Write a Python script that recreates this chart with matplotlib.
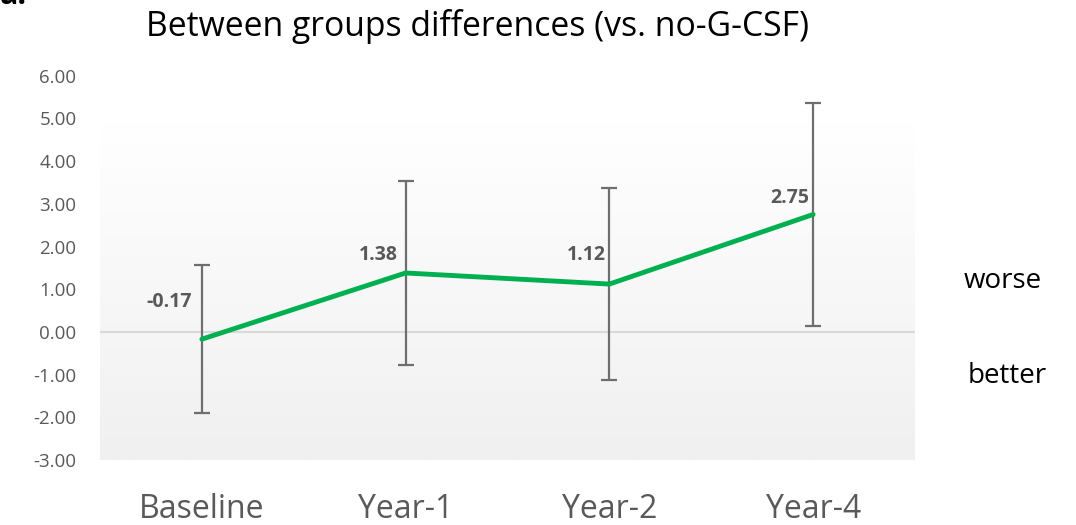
import matplotlib
matplotlib.use("Agg")
import matplotlib.pyplot as plt
import numpy as np

# data
categories = ["Baseline", "Year-1", "Year-2", "Year-4"]
diff = [-0.17, 1.38, 1.12, 2.75]
ci_upper = [1.57, 3.54, 3.37, 5.36]
ci_lower = [-1.90, -0.77, -1.12, 0.14]
yticks = [-3, -2, -1, 0, 1, 2, 3, 4, 5, 6]

# where each value label sits relative to its point (pixels: right edge dx, centre dy)
label_offsets = [(-10, 37), (-8, 18), (-4, 29), (-4, 16)]

GREY = "#595959"
GREEN = "#00b050"

plt.rcParams["font.family"] = ["Open Sans", "DejaVu Sans"]

fig = plt.figure(figsize=(10.76, 5.25), dpi=100)
# axes box in pixels: x 100..915, y 75.7..460
W, H = 1076, 525
ax = fig.add_axes([100 / W, 1 - 460 / H, 815 / W, (460 - 75.7) / H])

x = np.arange(len(categories))
ax.set_xlim(-0.5, len(categories) - 0.5)
ax.set_ylim(-3, 6)

# gradient plot-area background (white top -> light grey bottom)
grad = np.linspace(1.0, 0.0, 256).reshape(-1, 1)
ax.imshow(grad, extent=(-0.5, len(categories) - 0.5, -3, 4.9), aspect="auto",
          cmap=matplotlib.colors.LinearSegmentedColormap.from_list("bg", ["#f0f0f0", "#ffffff"]),
          zorder=0, interpolation="bilinear")

ax.axhline(0, color="#d9d9d9", lw=1.5, zorder=1)

diff_a = np.array(diff)
yerr = [diff_a - np.array(ci_lower), np.array(ci_upper) - diff_a]
ax.errorbar(x, diff, yerr=yerr, fmt="none", ecolor="#6e6e6e", elinewidth=1.6,
            capsize=6, capthick=1.6, zorder=2)
ax.plot(x, diff, color=GREEN, lw=3.5, solid_capstyle="round", zorder=3)

for xi, v, (dx, dy) in zip(x, diff, label_offsets):
    ax.annotate(f"{v:.2f}", (xi, v), xytext=(dx * 0.72, dy * 0.72), textcoords="offset points",
                ha="right", va="center", fontsize=14, fontweight="bold", color=GREY)

ax.set_xticks(x)
ax.set_xticklabels(categories, fontsize=23, color=GREY)
ax.set_yticks(yticks)
ax.set_yticklabels([f"{t:.2f}" for t in yticks], fontsize=13.5, color=GREY)
ax.tick_params(axis="both", length=0)
ax.tick_params(axis="x", pad=24)
ax.tick_params(axis="y", pad=17)
for s in ax.spines.values():
    s.set_visible(False)

fig.text(477 / W, 1 - 27 / H, "Between groups differences (vs. no-G-CSF)",
         ha="center", va="center", fontsize=24.3, color="black")
fig.text(1003 / W, 1 - 281 / H, "worse", ha="center", va="center", fontsize=20)
fig.text(1007 / W, 1 - 376 / H, "better", ha="center", va="center", fontsize=20)
# panel letter, cut by the top edge in the reference
fig.text(0.0, 1 - 4 / H, "a.", ha="left", va="baseline", fontsize=22, fontweight="bold")

fig.savefig("out.png", dpi=100)
